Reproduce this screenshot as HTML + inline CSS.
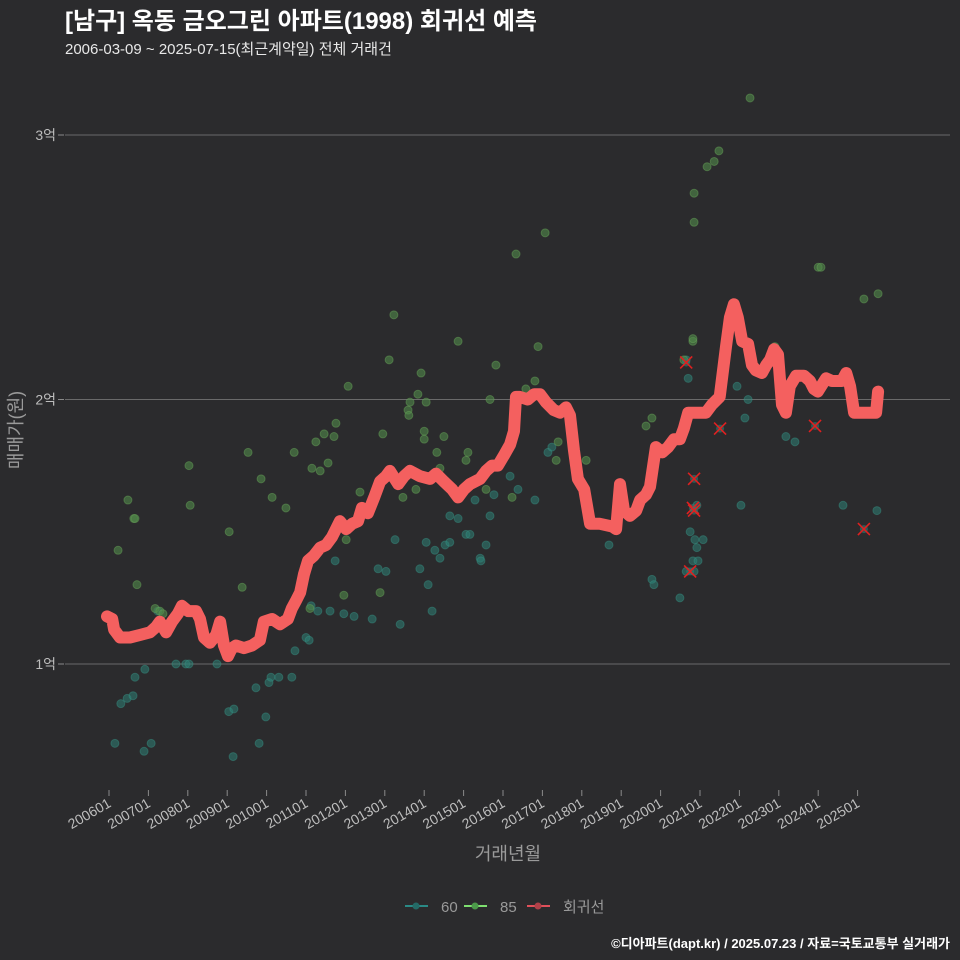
<!DOCTYPE html>
<html><head><meta charset="utf-8">
<style>
html,body{margin:0;padding:0;background:#2b2b2d;}
svg{display:block;font-family:"Liberation Sans","Noto Sans CJK KR",sans-serif;}
</style></head>
<body>
<svg id="chart" width="960" height="960" viewBox="0 0 960 960">
<rect width="960" height="960" fill="#2b2b2d"/>
<text x="65" y="29" font-size="24" font-weight="bold" fill="#ffffff">[남구] 옥동 금오그린 아파트(1998) 회귀선 예측</text>
<text x="65" y="54" font-size="15" fill="#e8e8e8">2006-03-09 ~ 2025-07-15(최근계약일) 전체 거래건</text>
<g id="grid"></g><g id="pts"></g><g id="line"></g><g id="xs"></g><g id="xaxis"></g><g id="yaxis"></g>
<text x="508" y="860" font-size="18" fill="#9a9a9a" text-anchor="middle">거래년월</text>
<text transform="translate(22,430) rotate(-90)" font-size="18" fill="#9a9a9a" text-anchor="middle">매매가(원)</text>
<g>
<g><line x1="405" y1="906" x2="428" y2="906" stroke="#2a8a86" stroke-width="2"/><circle cx="416" cy="906" r="3.5" fill="#246a66"/><text x="441" y="912" font-size="15" fill="#9a9a9a">60</text></g>
<g><line x1="464" y1="906" x2="487" y2="906" stroke="#7ee070" stroke-width="2"/><circle cx="475" cy="906" r="3.5" fill="#4c9a4a"/><text x="500" y="912" font-size="15" fill="#9a9a9a">85</text></g>
<g><line x1="527" y1="906" x2="550" y2="906" stroke="#e0505a" stroke-width="2"/><circle cx="538" cy="906" r="3.5" fill="#b04048"/><text x="563" y="912" font-size="15" fill="#9a9a9a">회귀선</text></g>
</g>
<text x="950" y="948" font-size="13" font-weight="bold" fill="#ffffff" text-anchor="end">©디아파트(dapt.kr) / 2025.07.23 / 자료=국토교통부 실거래가</text>
</svg>
<script>
const yTicks=[1,2,3];
const yTickLabels=["1억","2억","3억"];
const xTickYears=[2006,2007,2008,2009,2010,2011,2012,2013,2014,2015,2016,2017,2018,2019,2020,2021,2022,2023,2024,2025];
const xTickLabels=["200601","200701","200801","200901","201001","201101","201201","201301","201401","201501","201601","201701","201801","201901","202001","202101","202201","202301","202401","202501"];
const lineX=[2005.95,2006.08,2006.13,2006.28,2006.53,2006.79,2007.04,2007.19,2007.29,2007.45,2007.60,2007.75,2007.85,2008.01,2008.21,2008.31,2008.41,2008.56,2008.72,2008.82,2008.92,2009.02,2009.12,2009.22,2009.43,2009.63,2009.83,2009.93,2010.14,2010.34,2010.54,2010.64,2010.75,2010.85,2010.95,2011.05,2011.20,2011.36,2011.51,2011.66,2011.86,2012.02,2012.17,2012.32,2012.42,2012.57,2012.73,2012.88,2013.03,2013.13,2013.34,2013.49,2013.64,2013.89,2014.15,2014.30,2014.50,2014.71,2014.86,2015.01,2015.16,2015.42,2015.57,2015.72,2015.87,2016.03,2016.18,2016.28,2016.33,2016.43,2016.63,2016.79,2016.94,2017.09,2017.29,2017.45,2017.60,2017.70,2017.80,2017.90,2018.06,2018.21,2018.46,2018.77,2018.87,2018.97,2019.07,2019.22,2019.38,2019.48,2019.63,2019.73,2019.88,2020.04,2020.19,2020.34,2020.49,2020.59,2020.70,2021.00,2021.15,2021.30,2021.50,2021.66,2021.76,2021.86,2021.96,2022.07,2022.22,2022.32,2022.42,2022.57,2022.68,2022.78,2022.88,2022.98,2023.08,2023.18,2023.28,2023.44,2023.64,2023.79,2023.89,2023.99,2024.20,2024.35,2024.60,2024.71,2024.81,2024.91,2025.47,2025.52];
const lineY=[1.18,1.17,1.13,1.10,1.10,1.11,1.12,1.14,1.16,1.12,1.16,1.19,1.22,1.20,1.20,1.17,1.10,1.08,1.11,1.16,1.07,1.03,1.06,1.07,1.06,1.07,1.09,1.16,1.17,1.15,1.17,1.21,1.24,1.27,1.34,1.39,1.41,1.44,1.45,1.48,1.54,1.51,1.53,1.54,1.59,1.57,1.63,1.69,1.71,1.73,1.68,1.71,1.73,1.71,1.70,1.72,1.69,1.66,1.63,1.66,1.68,1.70,1.73,1.75,1.75,1.79,1.83,1.88,2.01,2.01,2.00,2.02,2.02,1.99,1.96,1.95,1.97,1.94,1.81,1.70,1.66,1.53,1.53,1.52,1.51,1.68,1.58,1.56,1.58,1.62,1.64,1.67,1.82,1.80,1.82,1.85,1.85,1.89,1.95,1.95,1.95,1.98,2.01,2.20,2.31,2.36,2.31,2.22,2.21,2.13,2.11,2.10,2.13,2.15,2.19,2.17,1.98,1.95,2.05,2.09,2.09,2.07,2.04,2.03,2.08,2.07,2.07,2.10,2.05,1.95,1.95,2.03];
const s60X=[2006.15,2006.30,2006.46,2006.61,2006.66,2006.89,2006.91,2007.07,2007.24,2007.70,2007.95,2008.03,2008.74,2009.04,2009.17,2009.15,2009.73,2009.81,2009.98,2010.06,2010.11,2010.31,2010.64,2010.72,2011.00,2011.13,2011.08,2011.30,2011.61,2011.74,2011.96,2012.22,2012.68,2012.83,2013.03,2013.26,2013.39,2013.89,2014.10,2014.20,2014.05,2014.27,2014.40,2014.53,2014.65,2014.65,2014.86,2015.06,2015.16,2015.29,2015.42,2015.44,2015.57,2015.67,2015.77,2016.18,2016.38,2016.81,2017.14,2017.24,2018.69,2019.78,2019.83,2020.49,2020.75,2020.87,2020.92,2020.82,2020.85,2020.95,2020.92,2021.08,2020.70,2020.65,2021.94,2022.04,2022.14,2022.22,2023.18,2023.41,2024.63,2025.49,2020.65];
const s60Y=[0.70,0.85,0.87,0.88,0.95,0.67,0.98,0.70,1.20,1.00,1.00,1.00,1.00,0.82,0.83,0.65,0.91,0.70,0.80,0.93,0.95,0.95,0.95,1.05,1.10,1.22,1.09,1.20,1.20,1.39,1.19,1.18,1.17,1.36,1.35,1.47,1.15,1.36,1.30,1.20,1.46,1.43,1.40,1.45,1.46,1.56,1.55,1.49,1.49,1.62,1.40,1.39,1.45,1.56,1.64,1.71,1.66,1.62,1.80,1.82,1.45,1.32,1.30,1.25,1.50,1.47,1.44,1.39,1.35,1.39,1.60,1.47,2.08,2.15,2.05,1.60,1.93,2.00,1.86,1.84,1.60,1.58,1.35];
const s85X=[2006.23,2006.48,2006.63,2006.66,2006.71,2007.17,2007.29,2007.37,2008.03,2008.06,2009.05,2009.38,2009.53,2009.86,2010.14,2010.49,2010.70,2011.10,2011.15,2011.25,2011.36,2011.46,2011.56,2011.71,2011.76,2012.02,2012.07,2012.37,2011.96,2012.88,2012.95,2013.11,2013.23,2013.46,2013.59,2013.61,2013.64,2013.79,2013.84,2013.92,2014.00,2014.00,2014.05,2014.32,2014.40,2014.50,2014.76,2014.86,2015.06,2015.11,2015.57,2015.67,2015.82,2016.23,2016.33,2016.58,2016.81,2016.89,2017.07,2017.35,2017.40,2018.11,2019.63,2019.78,2020.59,2020.82,2020.82,2020.85,2020.85,2021.18,2021.36,2021.48,2022.27,2022.75,2022.90,2024.00,2024.07,2025.16,2025.52];
const s85Y=[1.43,1.62,1.55,1.55,1.30,1.21,1.20,1.19,1.75,1.60,1.50,1.29,1.80,1.70,1.63,1.59,1.80,1.21,1.74,1.84,1.73,1.87,1.76,1.86,1.91,1.47,2.05,1.65,1.26,1.27,1.87,2.15,2.32,1.63,1.96,1.94,1.99,1.66,2.02,2.10,1.88,1.85,1.99,1.80,1.74,1.86,1.64,2.22,1.77,1.80,1.66,2.00,2.13,1.63,2.55,2.04,2.07,2.20,2.63,1.77,1.84,1.77,1.90,1.93,2.15,2.22,2.23,2.67,2.78,2.88,2.90,2.94,3.14,2.15,2.20,2.50,2.50,2.38,2.40];
const outX=[2020.65,2020.85,2020.82,2020.85,2020.75,2021.51,2023.92,2025.16];
const outY=[2.14,1.70,1.59,1.58,1.35,1.89,1.90,1.51];

const NS="http://www.w3.org/2000/svg";
function sx(yr){return 109+(yr-2006)*39.4;}
function sy(v){return 664-(v-1)*264.5;}
function mk(tag,attrs,parent){const e=document.createElementNS(NS,tag);for(const k in attrs)e.setAttribute(k,attrs[k]);parent.appendChild(e);return e;}
const grid=document.getElementById('grid'),yaxis=document.getElementById('yaxis'),xaxis=document.getElementById('xaxis');
yTicks.forEach((v,i)=>{
  const l=mk('line',{x1:65,x2:950,y1:sy(v),y2:sy(v),stroke:'#6a6a6a','stroke-width':1},grid);
  
  
  const tk=mk('line',{x1:58,x2:64,y1:sy(v),y2:sy(v),stroke:'#8a8a8a','stroke-width':1},yaxis);
  
  
  const t=mk('text',{x:56,y:sy(v)+5,'font-size':14,fill:'#bdbdbd','text-anchor':'end'},yaxis);
  t.textContent=yTickLabels[i];
  
  
});
xTickYears.forEach((yr,i)=>{
  const x=sx(yr);
  const tk=mk('line',{x1:x,x2:x,y1:790,y2:796,stroke:'#8a8a8a','stroke-width':1},xaxis);
  
  
  const t=mk('text',{transform:`translate(${x+3},${806}) rotate(-30)`,'font-size':14,fill:'#bdbdbd','text-anchor':'end'},xaxis);
  t.textContent=xTickLabels[i];
  
  
});
const pts=document.getElementById('pts');
s60X.forEach((x,i)=>{
  const c=mk('circle',{cx:sx(x),cy:sy(s60Y[i]),r:4,fill:'#2e7f74','fill-opacity':0.55,stroke:'#3a9a8c','stroke-opacity':0.4},pts);
  
  
});
s85X.forEach((x,i)=>{
  const c=mk('circle',{cx:sx(x),cy:sy(s85Y[i]),r:4,fill:'#50894a','fill-opacity':0.6,stroke:'#6aa85c','stroke-opacity':0.45},pts);
  
  
});
const lg=document.getElementById('line');
const d=lineX.map((x,i)=>(i?'L':'M')+sx(x).toFixed(1)+','+sy(lineY[i]).toFixed(1)).join(' ');
const p=mk('path',{d:d,fill:'none',stroke:'#f4605f','stroke-width':12,'stroke-linejoin':'round','stroke-linecap':'round'},lg);


const xs=document.getElementById('xs');
outX.forEach((x,i)=>{
  const cx=sx(x),cy=sy(outY[i]);
  const g=mk('g',{},xs);
  
  
  mk('circle',{cx:cx,cy:cy,r:4,fill:'#2e7f74','fill-opacity':0.6},g);
  mk('path',{d:`M${cx-6},${cy-6}L${cx+6},${cy+6}M${cx-6},${cy+6}L${cx+6},${cy-6}`,stroke:'#e02020','stroke-width':1.6},g);
});
</script>
</body></html>
